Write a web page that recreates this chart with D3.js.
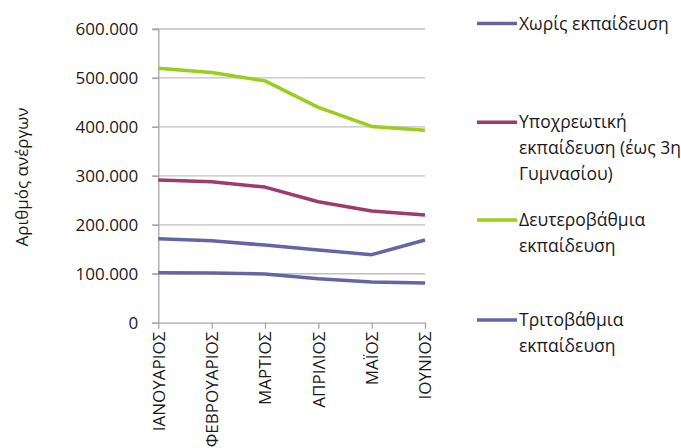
<!DOCTYPE html>
<html><head><meta charset="utf-8">
<script src="https://cdn.jsdelivr.net/npm/d3@7"></script>
<style>
body{margin:0;background:#fff;}
text{font-family:"Open Sans","Noto Sans",sans-serif;fill:#1a1a1a;}
</style></head>
<body><svg id="c" width="681" height="448"></svg>
<script>
const months = ["ΙΑΝΟΥΑΡΙΟΣ","ΦΕΒΡΟΥΑΡΙΟΣ","ΜΑΡΤΙΟΣ","ΑΠΡΙΛΙΟΣ","ΜΑΪΟΣ","ΙΟΥΝΙΟΣ"];
const seriesNames = ["Χωρίς εκπαίδευση","Υποχρεωτική εκπαίδευση (έως 3η Γυμνασίου)","Δευτεροβάθμια εκπαίδευση","Τριτοβάθμια εκπαίδευση"];
const noEducation = [102000,101500,99500,90000,83000,81000];
const compulsory = [291500,288000,277000,247000,228000,220000];
const secondary = [520000,511000,494000,440000,401000,393000];
const tertiary = [171500,167500,158500,148500,139000,169000];
const yTicks = [0,100000,200000,300000,400000,500000,600000];
const colors = ["#6466a3","#9e3a6c","#9acd1c","#6466a3"];
const legendLines = [["Χωρίς εκπαίδευση"],["Υποχρεωτική","εκπαίδευση (έως 3η","Γυμνασίου)"],["Δευτεροβάθμια","εκπαίδευση"],["Τριτοβάθμια","εκπαίδευση"]];
const allSeries = [noEducation, compulsory, secondary, tertiary];

const svg = d3.select("#c");
const x = d3.scalePoint().domain(months).range([158.3, 425]);
const y = d3.scaleLinear().domain([0,600000]).range([322.7, 29]);
const fmt = v => v===0 ? "0" : d3.format(",")(v).replace(/,/g,".");

// gridlines
svg.append("g").selectAll("line").data(yTicks.filter(d=>d>0)).join("line")
  .attr("x1",152).attr("x2",425).attr("y1",d=>y(d)).attr("y2",d=>y(d))
  .attr("stroke","#bfbfbf").attr("stroke-width",1.3);

// y axis
const ya = svg.append("g").attr("transform","translate(158.3,0)")
  .call(d3.axisLeft(y).tickValues(yTicks).tickFormat(fmt).tickSize(6).tickPadding(14));
ya.select(".domain").attr("stroke","#a6a6a6").attr("stroke-width",1.3);
ya.selectAll(".tick line").attr("stroke","#a6a6a6").attr("stroke-width",1.3);
ya.selectAll("text").attr("font-size",17).attr("font-family","'Open Sans',sans-serif").attr("fill","#1a1a1a");

// x axis
const xa = svg.append("g").attr("transform","translate(0,322.7)")
  .call(d3.axisBottom(x).tickSize(6).tickSizeOuter(0));
xa.select(".domain").attr("stroke","#a6a6a6").attr("stroke-width",1.3);
xa.selectAll(".tick line").attr("stroke","#a6a6a6").attr("stroke-width",1.3);
xa.selectAll("text").attr("font-size",17).attr("font-family","'Open Sans',sans-serif").attr("fill","#1a1a1a")
  .attr("transform","rotate(-90)").attr("text-anchor","end").attr("x",-9).attr("y",0).attr("dy","0.35em");

// y title
svg.append("text").attr("transform","translate(22,177) rotate(-90)").attr("text-anchor","middle")
  .attr("dy","0.35em").attr("font-size",17).text("Αριθμός ανέργων");

// lines
const line = d3.line().x((d,i)=>x(months[i])).y(d=>y(d));
svg.append("g").selectAll("path").data(allSeries).join("path")
  .attr("d",line).attr("fill","none").attr("stroke",(d,i)=>colors[i]).attr("stroke-width",3.5)
  .attr("stroke-linejoin","round");

// legend
const legY = [23.5,122.3,220,320];
const lg = svg.append("g").selectAll("g").data(legendLines).join("g")
  .attr("transform",(d,i)=>`translate(477,${legY[i]})`);
lg.append("line").attr("x1",0).attr("x2",40).attr("stroke",(d,i)=>colors[i]).attr("stroke-width",3.5);
lg.each(function(d){
  const t = d3.select(this).append("text").attr("x",42).attr("font-size",17.5);
  d.forEach((s,j)=>t.append("tspan").attr("x",42).attr("y",j*25.7).attr("dy","0.35em").text(s));
});
</script></body></html>
